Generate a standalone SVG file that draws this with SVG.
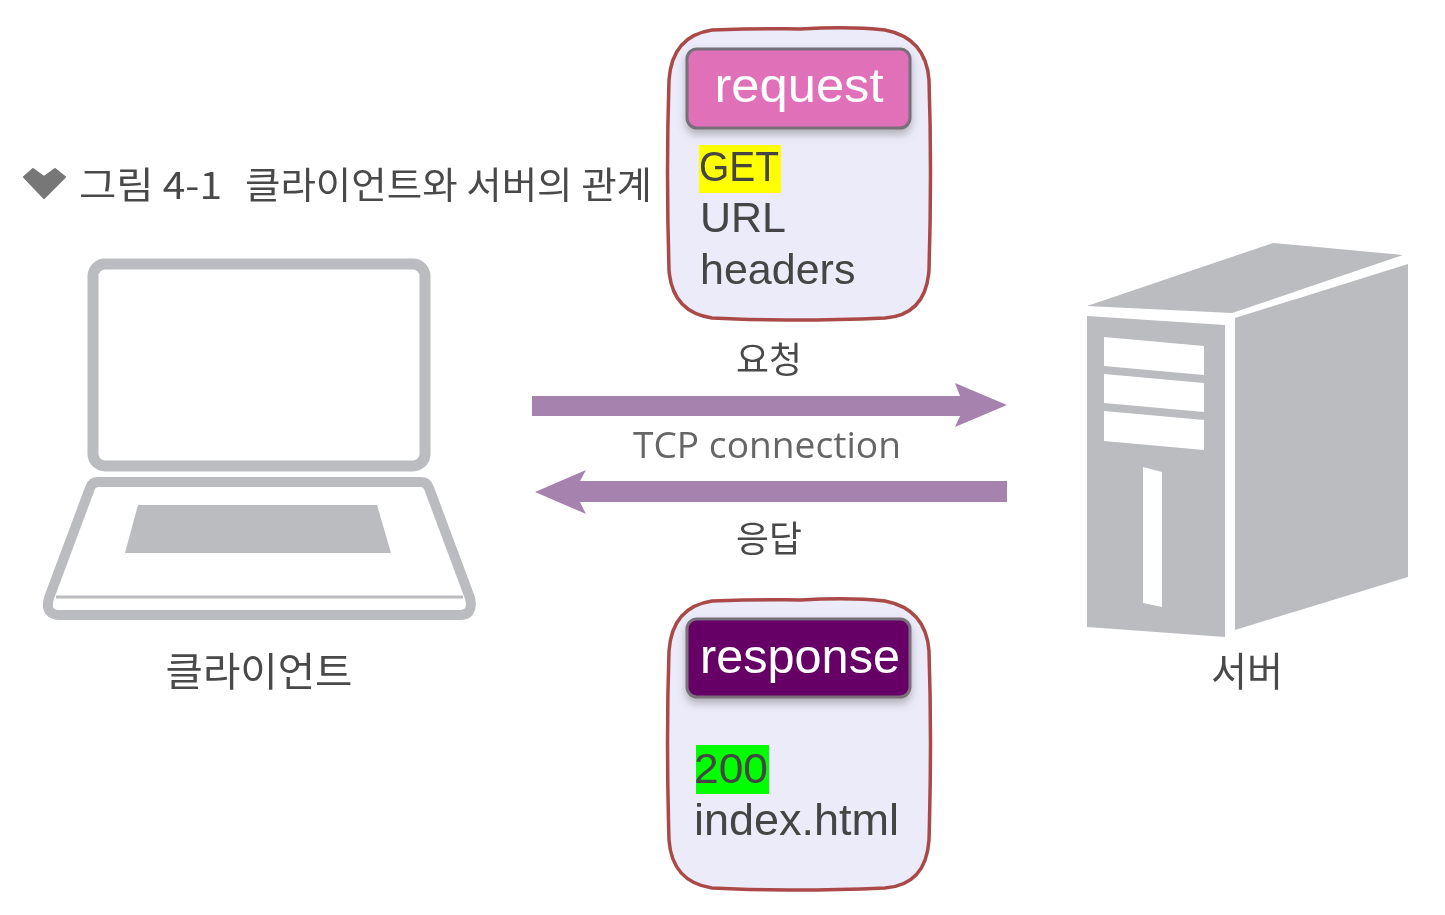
<svg xmlns="http://www.w3.org/2000/svg" width="1445" height="915" viewBox="0 0 1445 915">
<style>
.ko{font-family:"Noto Sans CJK KR","Noto Sans",sans-serif;fill:#4a4a4a}
.la{font-family:"Liberation Sans",Arial,sans-serif;fill:#444;font-size:43px}
.btn{font-family:"Liberation Sans",Arial,sans-serif;fill:#fff;font-size:48px;text-anchor:middle}
.gray{fill:#bbbcbf}
.wire{fill:none;stroke:#bbbcbf}
.card{fill:#ecebfa;stroke:#aa4a46;stroke-width:3.5}
.arrow{fill:#a583ae}
</style>
<defs>
<filter id="soft" x="-2%" y="-2%" width="104%" height="104%"><feGaussianBlur stdDeviation="0.75"/></filter>
<filter id="shadow" x="-5%" y="-10%" width="110%" height="130%"><feDropShadow dx="0" dy="5" stdDeviation="4" flood-color="#666" flood-opacity="0.45"/></filter>
</defs>
<rect width="1445" height="915" fill="#fff"/>
<g filter="url(#soft)">
<g id="title">
<polygon points="24,177 33,169 44,177 55,169 65,177 44,198" fill="#777" stroke="#777" stroke-width="2" stroke-linejoin="round"/>
<text class="ko" x="79" y="199" font-size="37" textLength="143" lengthAdjust="spacingAndGlyphs">그림 4-1</text>
<text class="ko" x="245" y="199" font-size="37" textLength="407" lengthAdjust="spacingAndGlyphs">클라이언트와 서버의 관계</text>
</g>
<g id="client">
<rect class="wire" x="93" y="264" width="332" height="202" rx="12" stroke-width="11"/>
<path class="wire" stroke-width="10" stroke-linejoin="round" d="M98 482H421Q427 482 429 488L470 598Q474 616 458 615H62Q44 616 49 598L90 488Q92 482 98 482Z"/>
<path class="wire" stroke-width="3" d="M56 597H463"/>
<polygon class="gray" points="138,505 377,505 391,553 125,553"/>
<text class="ko" x="259" y="686" font-size="40" text-anchor="middle" textLength="187" lengthAdjust="spacingAndGlyphs">클라이언트</text>
</g>
<g id="server">
<polygon class="gray" points="1087,306 1273,243 1403,255 1232,313"/>
<polygon class="gray" points="1087,316 1225,325 1225,637 1087,627"/>
<polygon class="gray" points="1235,318 1408,264 1408,577 1235,630"/>
<polygon fill="#fff" points="1104,337 1204,346 1204,375 1104,366"/>
<polygon fill="#fff" points="1104,374 1204,383 1204,412 1104,403"/>
<polygon fill="#fff" points="1104,411 1204,420 1204,450 1104,441"/>
<polygon fill="#fff" points="1143,467 1162,472 1162,607 1143,603"/>
<text class="ko" x="1247" y="686" font-size="40" text-anchor="middle" textLength="72" lengthAdjust="spacingAndGlyphs">서버</text>
</g>
<g id="request">
<path class="card" d="M712 30Q760 28 800 29Q850 26 885 30Q926 38 929 80Q932 170 929 270Q926 315 885 318Q790 322 712 318Q672 312 669 270Q666 170 669 80Q672 36 712 30Z"/>
<rect x="687" y="49" width="223" height="79" rx="10" fill="#e06fb8" stroke="#77707a" stroke-width="3" filter="url(#shadow)"/>
<text class="btn" x="799" y="102" textLength="169" lengthAdjust="spacingAndGlyphs">request</text>
<rect x="699" y="145" width="82" height="48" fill="#ff0"/>
<text class="la" x="699" y="181" textLength="80" lengthAdjust="spacingAndGlyphs">GET</text>
<text class="la" x="700" y="232">URL</text>
<text class="la" x="700" y="284">headers</text>
</g>
<g id="response">
<path class="card" d="M712 601Q760 599 800 600Q850 597 885 601Q926 609 929 651Q932 740 929 840Q926 885 885 888Q790 892 712 888Q672 882 669 840Q666 740 669 651Q672 607 712 601Z"/>
<rect x="687" y="619" width="223" height="78" rx="10" fill="#660066" stroke="#7a6f7c" stroke-width="3" filter="url(#shadow)"/>
<text class="btn" x="800" y="673" textLength="200" lengthAdjust="spacingAndGlyphs">response</text>
<rect x="696" y="745" width="73" height="49" fill="#0f0"/>
<text class="la" x="694" y="783" textLength="74" lengthAdjust="spacingAndGlyphs">200</text>
<text class="la" x="694" y="835" style="font-size:45px">index.html</text>
</g>
<g id="connectors">
<polygon class="arrow" points="532,396 960,396 955,383 1007,405 955,427 960,416 532,416"/>
<polygon class="arrow" points="1007,481 580,481 586,470 535,492 586,514 580,502 1007,502"/>
</g>
<g id="labels">
<text class="ko" x="769" y="373" font-size="36" text-anchor="middle" textLength="66" lengthAdjust="spacingAndGlyphs">요청</text>
<text x="767" y="458" font-family="Open Sans, Liberation Sans, sans-serif" font-size="37" fill="#666" text-anchor="middle" textLength="268" lengthAdjust="spacingAndGlyphs">TCP connection</text>
<text class="ko" x="769" y="552" font-size="36" text-anchor="middle" textLength="66" lengthAdjust="spacingAndGlyphs">응답</text>
</g>
</g>
</svg>
